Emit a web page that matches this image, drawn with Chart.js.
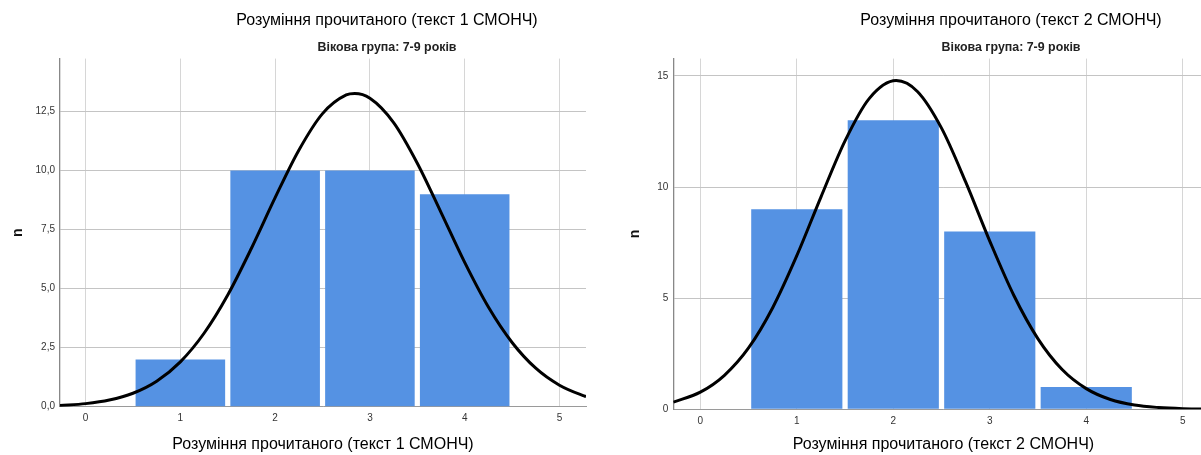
<!DOCTYPE html>
<html lang="uk">
<head>
<meta charset="utf-8">
<title>Розуміння прочитаного</title>
<script src="https://cdn.jsdelivr.net/npm/chart.js@4"></script>
<style>
  html, body { margin: 0; padding: 0; background: #fff; overflow: hidden; width: 1201px; height: 455px; }
  .panel { position: absolute; top: 0; }
  #p1 { left: 0; }
  #p2 { left: 617px; }
</style>
</head>
<body>
<div class="panel" id="p1"><canvas id="chart1" width="774" height="455"></canvas></div>
<div class="panel" id="p2"><canvas id="chart2" width="788" height="455"></canvas></div>
<script>
const scoreBins = [1, 2, 3, 4];
const xTicks = [0, 1, 2, 3, 4, 5];

// текст 1
const counts1 = [2, 10, 10, 9];
const yTicks1 = [0, 2.5, 5, 7.5, 10, 12.5];
const curveX1 = [-0.27, 0, 0.25, 0.5, 0.75, 1, 1.25, 1.5, 1.75, 2, 2.25, 2.5, 2.75, 2.84, 3, 3.25, 3.5, 3.75, 4, 4.25, 4.5, 4.75, 5, 5.25, 5.28];
const curveY1 = [0.05, 0.13, 0.28, 0.57, 1.08, 1.90, 3.11, 4.73, 6.71, 8.85, 10.86, 12.41, 13.20, 13.26, 13.06, 12.03, 10.31, 8.23, 6.11, 4.22, 2.72, 1.63, 0.91, 0.47, 0.43];

// текст 2
const counts2 = [9, 13, 8, 1];
const yTicks2 = [0, 5, 10, 15];
const curveX2 = [-0.28, 0, 0.25, 0.5, 0.75, 1, 1.25, 1.5, 1.75, 2.03, 2.25, 2.5, 2.75, 3, 3.25, 3.5, 3.75, 4, 4.25, 4.5, 4.75, 5, 5.32];
const curveY2 = [0.32, 0.77, 1.53, 2.76, 4.57, 6.91, 9.55, 12.08, 13.98, 14.79, 14.30, 12.65, 10.23, 7.57, 5.12, 3.17, 1.79, 0.93, 0.44, 0.19, 0.08, 0.03, 0.01];

const FONT = "'Liberation Sans', Arial, sans-serif";
const BAR_COLOR = '#5592e3';

function makeHistogram(id, cfg) {
    const ctx = document.getElementById(id).getContext('2d');
    return new Chart(ctx, {
        data: {
            datasets: [
                {
                    type: 'line',
                    data: cfg.curveX.map((x, i) => ({ x: x, y: cfg.curveY[i] })),
                    borderColor: '#000',
                    borderWidth: 3,
                    pointRadius: 0,
                    cubicInterpolationMode: 'monotone',
                    order: 0
                },
                {
                    type: 'bar',
                    data: scoreBins.map((b, i) => ({ x: b, y: cfg.counts[i] })),
                    backgroundColor: BAR_COLOR,
                    borderWidth: 0,
                    barPercentage: 0.945,
                    categoryPercentage: 1,
                    order: 1
                }
            ]
        },
        options: {
            responsive: false,
            animation: false,
            devicePixelRatio: 1,
            plugins: {
                legend: { display: false },
                tooltip: { enabled: false },
                title: {
                    display: true,
                    text: cfg.title,
                    color: '#000',
                    font: { family: FONT, size: 16, weight: 'normal' },
                    padding: { top: 11.4, bottom: 0 }
                },
                subtitle: {
                    display: true,
                    text: 'Вікова група: 7-9 років',
                    color: '#222',
                    font: { family: FONT, size: 12.4, weight: 'bold' },
                    padding: { top: 9.3, bottom: 3.8 }
                }
            },
            scales: {
                x: {
                    type: 'linear',
                    min: cfg.xMin,
                    max: cfg.xMax,
                    offset: false,
                    afterBuildTicks: s => { s.ticks = xTicks.map(v => ({ value: v })); },
                    afterFit: s => { s.height = cfg.xHeight; },
                    grid: { color: '#d6d6d6', drawTicks: false, offset: false },
                    border: { color: '#9a9a9a', width: 1 },
                    ticks: {
                        padding: 6,
                        color: '#333',
                        font: { family: FONT, size: 10 },
                        maxRotation: 0,
                        callback: v => String(v)
                    },
                    title: {
                        display: true,
                        text: cfg.title,
                        color: '#000',
                        font: { family: FONT, size: 16 },
                        padding: { top: 0, bottom: 0.4 }
                    }
                },
                y: {
                    min: 0,
                    max: cfg.yMax,
                    afterBuildTicks: s => { s.ticks = cfg.yTicks.map(v => ({ value: v })); },
                    afterFit: s => { s.width = cfg.yWidth; },
                    grid: { color: '#c4c4c4', drawTicks: false },
                    border: { color: '#888', width: 1.3 },
                    ticks: {
                        padding: 5,
                        color: '#333',
                        font: { family: FONT, size: 10 },
                        callback: cfg.tickFormat
                    },
                    title: {
                        display: true,
                        text: 'n',
                        color: '#111',
                        font: { family: FONT, size: 14, weight: 'bold' },
                        padding: { top: 9.6, bottom: 0 }
                    }
                },
                // empty strip on the right so the titles sit over the whole panel
                side: {
                    position: 'right',
                    afterFit: s => { s.width = cfg.sideWidth; },
                    grid: { display: false },
                    border: { display: false },
                    ticks: { display: false }
                }
            }
        }
    });
}

makeHistogram('chart1', {
    title: 'Розуміння прочитаного (текст 1 СМОНЧ)',
    counts: counts1,
    curveX: curveX1,
    curveY: curveY1,
    yTicks: yTicks1,
    xMin: -0.27,
    xMax: 5.28,
    yMax: 14.74,
    yWidth: 60,
    xHeight: 48.3,
    sideWidth: 188,
    tickFormat: v => v.toFixed(1).replace('.', ',')
});

makeHistogram('chart2', {
    title: 'Розуміння прочитаного (текст 2 СМОНЧ)',
    counts: counts2,
    curveX: curveX2,
    curveY: curveY2,
    yTicks: yTicks2,
    xMin: -0.28,
    xMax: 5.32,
    yMax: 15.78,
    yWidth: 56.3,
    xHeight: 45.7,
    sideWidth: 191.4,
    tickFormat: v => String(v)
});
</script>
</body>
</html>
